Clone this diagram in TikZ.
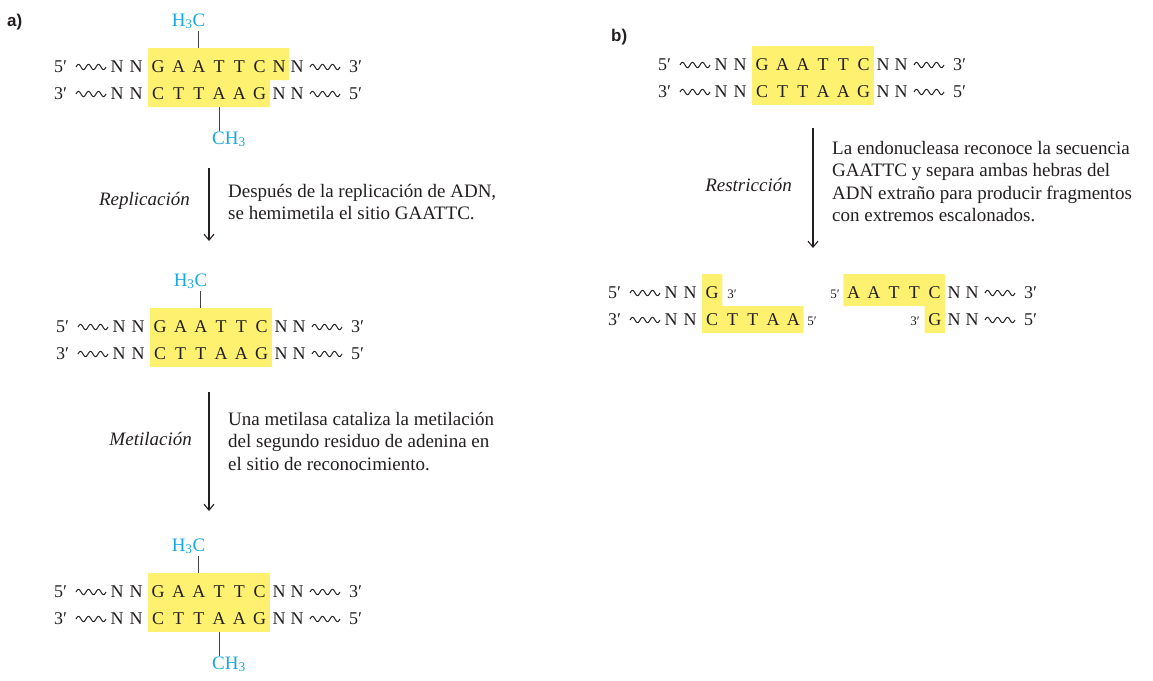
\documentclass[tikz,border=0pt]{standalone}
\usepackage{fontspec}
\setmainfont{Liberation Serif}
\setsansfont{Liberation Sans}
\usetikzlibrary{arrows.meta}

\definecolor{hilite}{RGB}{255,241,112}
\definecolor{methylblue}{RGB}{22,168,228}
\definecolor{ink}{RGB}{35,31,32}

\tikzset{
  nuc/.style={inner sep=0pt,anchor=base,text=ink,font=\fontsize{18}{22}\selectfont},
  endlbl/.style={nuc},
  tinylbl/.style={inner sep=0pt,anchor=base,text=ink,font=\fontsize{13}{15}\selectfont},
  methyl/.style={inner sep=0pt,text=methylblue,font=\fontsize{19}{22}\selectfont},
  bond/.style={draw=ink!85,line width=1.1pt},
  wave/.style={draw=ink,line width=1pt},
  steparrow/.style={draw=ink,line width=1.1pt,-{Straight Barb[length=6pt,width=10pt]}},
  proc/.style={inner sep=0pt,anchor=base east,text=ink,font=\fontsize{19}{22}\selectfont\itshape},
  desc/.style={inner sep=0pt,anchor=north west,align=left,text=ink,font=\fontsize{19}{22.5}\selectfont},
  panel/.style={inner sep=0pt,anchor=base west,text=ink,font=\fontsize{17}{19}\sffamily\bfseries}
}

% wavy backbone, 3 humps
\newcommand{\wavy}[2]{\draw[wave] plot[domain=0:30,samples=70] ({#1+\x},{#2-2.6*sin(\x*36)});}

% one strand: name, baseline, left end, six site letters, right end
\newcommand{\dnarow}[5]{%
  \node[endlbl] (#1-l) at (60.5,#2) {#3};
  \wavy{76}{#2-5}
  \node[nuc] (#1-n1) at (117,#2) {N};
  \node[nuc] (#1-n2) at (136,#2) {N};
  \foreach \ch [count=\k] in {#4} \node[nuc] (#1-\k) at ({137.9+20.3*\k},#2) {\ch};
  \node[nuc] (#1-n3) at (279,#2) {N};
  \node[nuc] (#1-n4) at (297,#2) {N};
  \wavy{310}{#2-5}
  \node[endlbl] (#1-r) at (355.5,#2) {#5};
}

\begin{document}
\begin{tikzpicture}[x=1pt,y=-1pt]
\useasboundingbox (0,0) rectangle (1153,680);

% ---------- a) ----------
\node[panel] (pa) at (7,27) {a)};

% fully methylated site
\begin{scope}
  \fill[hilite] (148,48) -- (289,48) -- (289,80) -- (270,80) -- (270,107) -- (148,107) -- cycle;
  \dnarow{aIt}{72}{5′}{G,A,A,T,T,C}{3′}
  \dnarow{aIb}{99}{3′}{C,T,T,A,A,G}{5′}
  \node[methyl,anchor=base east] (h3cI) at (205.5,26) {H\textsubscript{3}C};
  \node[methyl,anchor=base west] (ch3I) at (212,144) {CH\textsubscript{3}};
  \coordinate (tI) at (198.8,48);
  \coordinate (bI) at (219.2,107);
  \draw[bond] ([yshift=-2pt]h3cI.south -| tI) -- (tI);
  \draw[bond] (bI) -- (bI |- ch3I.north);
\end{scope}

\coordinate (repS) at (209,168);
\coordinate (repE) at (209,241);
\draw[steparrow] (repS) -- (repE);
\node[proc] (rep) at (190,205) {Replicación};
\node[desc] (repT) at (228,184) {Después de la replicación de ADN,\\se hemimetila el sitio GAATTC.};

% hemimethylated site
\begin{scope}[shift={(2,260)}]
  \fill[hilite] (148,48) rectangle (270,107);
  \dnarow{aIIt}{72}{5′}{G,A,A,T,T,C}{3′}
  \dnarow{aIIb}{99}{3′}{C,T,T,A,A,G}{5′}
  \node[methyl,anchor=base east] (h3cII) at (205.5,26) {H\textsubscript{3}C};
  \coordinate (tII) at (198.8,48);
  \draw[bond] ([yshift=-2pt]h3cII.south -| tII) -- (tII);
\end{scope}

\coordinate (metS) at (209,392);
\coordinate (metE) at (209,511);
\draw[steparrow] (metS) -- (metE);
\node[proc] (met) at (192,445) {Metilación};
\node[desc] (metT) at (228,412) {Una metilasa cataliza la metilación\\del segundo residuo de adenina en\\el sitio de reconocimiento.};

% methylated again
\begin{scope}[shift={(0,525)}]
  \fill[hilite] (148,48) rectangle (270,107);
  \dnarow{aIIIt}{72}{5′}{G,A,A,T,T,C}{3′}
  \dnarow{aIIIb}{99}{3′}{C,T,T,A,A,G}{5′}
  \node[methyl,anchor=base east] (h3cIII) at (205.5,26) {H\textsubscript{3}C};
  \node[methyl,anchor=base west] (ch3III) at (212,144) {CH\textsubscript{3}};
  \coordinate (tIII) at (198.8,48);
  \coordinate (bIII) at (219.2,107);
  \draw[bond] ([yshift=-2pt]h3cIII.south -| tIII) -- (tIII);
  \draw[bond] (bIII) -- (bIII |- ch3III.north);
\end{scope}

% ---------- b) ----------
\node[panel] (pb) at (611,41) {b)};

\begin{scope}[shift={(604,-2)}]
  \fill[hilite] (148,48) rectangle (270,107);
  \dnarow{bt}{72}{5′}{G,A,A,T,T,C}{3′}
  \dnarow{bb}{99}{3′}{C,T,T,A,A,G}{5′}
\end{scope}

\coordinate (resS) at (813,128);
\coordinate (resE) at (813,248);
\draw[steparrow] (resS) -- (resE);
\node[proc] (res) at (792,191) {Restricción};
\node[desc] (resT) at (832,141) {La endonucleasa reconoce la secuencia\\GAATTC y separa ambas hebras del\\ADN extraño para producir fragmentos\\con extremos escalonados.};

% left fragment
\begin{scope}[shift={(554,226)}]
  \fill[hilite] (148,48) -- (168.3,48) -- (168.3,80) -- (249.5,80) -- (249.5,107) -- (148,107) -- cycle;
  \node[endlbl] (fl5) at (60.5,72) {5′};
  \wavy{76}{67}
  \node[nuc] (flt1) at (117,72) {N};
  \node[nuc] (flt2) at (136,72) {N};
  \node[nuc] (flt3) at (158.2,72) {G};
  \node[tinylbl] (fl3s) at (178,72) {3′};
  \node[endlbl] (fl3) at (60.5,99) {3′};
  \wavy{76}{94}
  \node[nuc] (flb1) at (117,99) {N};
  \node[nuc] (flb2) at (136,99) {N};
  \foreach \ch [count=\k from 0] in {C,T,T,A,A}
    \node[nuc] (flb\k) at ({158.2+20.3*\k},99) {\ch};
  \node[tinylbl] (fl5s) at (258,99) {5′};
\end{scope}

% right fragment
\begin{scope}[shift={(675,226)}]
  \fill[hilite] (168.3,48) -- (270,48) -- (270,107) -- (249.5,107) -- (249.5,80) -- (168.3,80) -- cycle;
  \node[tinylbl] (fr5s) at (160,72) {5′};
  \foreach \ch [count=\k from 1] in {A,A,T,T,C}
    \node[nuc] (frt\k) at ({158.2+20.3*\k},72) {\ch};
  \node[nuc] (frtn1) at (279,72) {N};
  \node[nuc] (frtn2) at (297,72) {N};
  \wavy{310}{67}
  \node[endlbl] (fr3) at (355.5,72) {3′};
  \node[tinylbl] (fr3s) at (240,99) {3′};
  \node[nuc] (frb) at (259.8,99) {G};
  \node[nuc] (frbn1) at (279,99) {N};
  \node[nuc] (frbn2) at (297,99) {N};
  \wavy{310}{94}
  \node[endlbl] (fr5) at (355.5,99) {5′};
\end{scope}
\end{tikzpicture}
\end{document}
